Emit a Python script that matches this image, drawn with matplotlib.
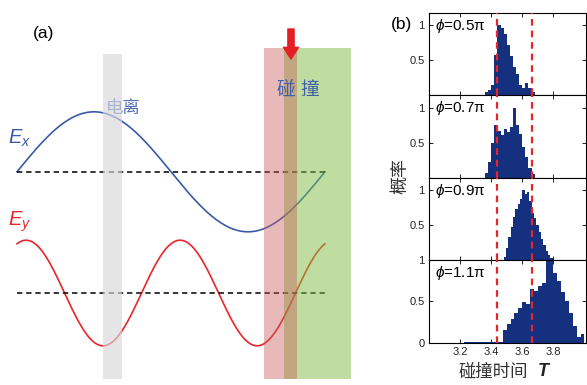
import numpy as np
import matplotlib
matplotlib.use("Agg")
import matplotlib.pyplot as plt
from matplotlib.patches import Rectangle

plt.rcParams['font.family'] = ['Liberation Sans', 'Noto Sans CJK SC', 'DejaVu Sans']
plt.rcParams['mathtext.fontset'] = 'custom'
plt.rcParams['mathtext.rm'] = 'Liberation Sans'
plt.rcParams['mathtext.it'] = 'Liberation Sans:italic'
plt.rcParams['mathtext.bf'] = 'Liberation Sans:bold'

# ---------------- panel (a): field schematic ----------------
ex_offset, ex_amp = 2.02, 1.0          # E_x baseline and amplitude
ey_offset, ey_amp = 0.0, 0.88          # E_y baseline and amplitude
ey_phase = 0.37                        # E_y phase lag (rad)
t_field = np.linspace(0.0, 1.0, 600)   # time in optical cycles

ion_band = (0.279, 0.341)              # ionization window
coll_band_1 = (0.802, 0.909)           # collision window (red)
coll_band_2 = (0.867, 1.084)           # collision window (green)

# ---------------- panel (b): collision-time histograms ----------------
phase_labels = ['0.5π', '0.7π', '0.9π', '1.1π']

p1_start, p1_width = 3.22, 0.02
p1_heights = [0.008, 0.008, 0.008, 0.008, 0.008, 0.008, 0.008,
              0.04, 0.08, 0.14, 0.58, 1.0, 0.96, 0.87, 0.72, 0.56, 0.41,
              0.30, 0.15, 0.11, 0.18, 0.10, 0.04, 0.01,
              0.008, 0.008, 0.008, 0.008]

p2_start, p2_width = 3.36, 0.02
p2_heights = [0.07, 0.22, 0.49, 0.76, 0.67, 0.61, 0.70, 0.65, 0.72, 1.0,
              0.75, 0.62, 0.44, 0.29, 0.14, 0.06]

p3_start, p3_width = 3.225, 0.015
p3_heights = [0.01] * 17 + [0.05, 0.18, 0.33, 0.48, 0.62, 0.73, 0.80, 0.88,
                            1.0, 0.94, 0.97, 0.85, 0.68, 0.60, 0.50, 0.40,
                            0.31, 0.22, 0.13, 0.07, 0.03]

p4_start, p4_width = 3.225, 0.025
p4_heights = [0.006] * 10 + [0.15, 0.23, 0.29, 0.36, 0.42, 0.49, 0.47, 0.65,
                             0.63, 0.69, 0.72, 1.0, 1.0, 0.85, 0.75, 0.62,
                             0.50, 0.36, 0.20, 0.07, 0.10]

hist_starts = [p1_start, p2_start, p3_start, p4_start]
hist_widths = [p1_width, p2_width, p3_width, p4_width]
hist_heights = [p1_heights, p2_heights, p3_heights, p4_heights]

t_window = [3.44, 3.66]                # collision window bounds
x_ticks = [3.2, 3.4, 3.6, 3.8]

# ---------------- figure ----------------
W, H = 587, 385
fig = plt.figure(figsize=(W / 100, H / 100), dpi=100)


def fx(px):
    return px / W


def fy(py):
    return 1 - py / H


blue = '#3a5aa8'
red = '#e8262a'

ax = fig.add_axes([0, 0, fx(365), 1])
ax.set_xlim(-17 / 308, 348 / 308)
ax.set_ylim(-92 / 60, 293 / 60)
ax.axis('off')

ex = ex_offset + ex_amp * np.sin(2 * np.pi * t_field)
ey = ey_offset + ey_amp * np.cos(4 * np.pi * t_field - ey_phase)
ax.plot(t_field, ex, color=blue, lw=1.2, zorder=2)
ax.plot(t_field, ey, color=red, lw=1.2, zorder=2)
for off in (ex_offset, ey_offset):
    ax.plot([0, 1], [off, off], color='black', lw=1.1,
            dashes=(3.5, 2.5), zorder=2)

ax.add_patch(Rectangle((ion_band[0], -1.433), ion_band[1] - ion_band[0],
                       5.416, facecolor='#d8d8dc', alpha=0.65, lw=0,
                       zorder=3))
ax.add_patch(Rectangle((coll_band_2[0], -1.433),
                       coll_band_2[1] - coll_band_2[0], 5.516,
                       facecolor='#80bd45', alpha=0.5, lw=0, zorder=3))
ax.add_patch(Rectangle((coll_band_1[0], -1.433),
                       coll_band_1[1] - coll_band_1[0], 5.516,
                       facecolor='#c85a57', alpha=0.42, lw=0, zorder=4))

ax.annotate('', xy=(0.8896, 3.9), xytext=(0.8896, 4.40),
            arrowprops=dict(arrowstyle='simple,head_length=0.6,'
                                       'head_width=0.78,tail_width=0.32',
                            mutation_scale=14, color='#e31e24',
                            shrinkA=0, shrinkB=0), zorder=6)

ax.text(0.0877, 4.317, '(a)', fontsize=12.5, ha='center', va='center')
ax.text(-0.028, 2.58, r'$E_x$', color=blue, fontsize=14.5,
        ha='left', va='center')
ax.text(-0.028, 1.18, r'$E_y$', color=red, fontsize=14.5,
        ha='left', va='center')
ax.text(0.344, 3.09, '电离', color='#5470b5', fontsize=12.5,
        ha='center', va='center', zorder=2)
ax.text(0.912, 3.383, '碰 撞', color='#4060a8', fontsize=13.5,
        ha='center', va='center', zorder=5)

# histogram stack
left, right = fx(429), fx(586)
top, bottom = fy(12.7), fy(342.7)
ph = (top - bottom) / 4
bar_color = '#14307e'
axes_b = []
for i in range(4):
    axb = fig.add_axes([left, top - (i + 1) * ph, right - left, ph])
    axes_b.append(axb)
    hts = np.array(hist_heights[i])
    edges = hist_starts[i] + hist_widths[i] * np.arange(len(hts))
    axb.bar(edges, hts, width=hist_widths[i], align='edge',
            color=bar_color, lw=0, zorder=2)
    for tw in t_window:
        axb.axvline(tw, color='#e8262a', lw=1.6, dashes=(3, 2.2), zorder=3)
    axb.set_xlim(3.0, 4.01)
    if i < 3:
        axb.set_ylim(0, 1.18)
        axb.set_yticks([0.5, 1])
        axb.set_yticklabels(['0.5', '1'])
        axb.tick_params(labelbottom=False)
    else:
        axb.set_ylim(0, 1.0)
        axb.set_yticks([0, 0.5, 1])
        axb.set_yticklabels(['0', '0.5', '1'])
    axb.set_xticks(x_ticks)
    axb.set_xticklabels([f'{v:.1f}' for v in x_ticks])
    axb.tick_params(direction='in', length=3, width=0.7, top=True,
                    right=True, labelsize=8, colors='#222222', pad=3)
    for s in axb.spines.values():
        s.set_linewidth(0.8)
    axb.text(0.04, 0.84, r'$\phi$=' + phase_labels[i],
             transform=axb.transAxes, fontsize=11, ha='left', va='center')

fig.text(fx(401), fy(25), '(b)', fontsize=12.5, ha='center', va='center')
fig.text(fx(401), fy(176), '概率', fontsize=13, rotation=90,
         ha='center', va='center', color='#333333')
fig.text(fx(493), fy(372), '碰撞时间', fontsize=12.5, ha='center',
         va='center', color='#333333')
fig.text(fx(543), fy(372), 'T', fontsize=13, ha='center', va='center',
         style='italic', weight='bold', color='#222222')

fig.savefig('out.png', dpi=100)
